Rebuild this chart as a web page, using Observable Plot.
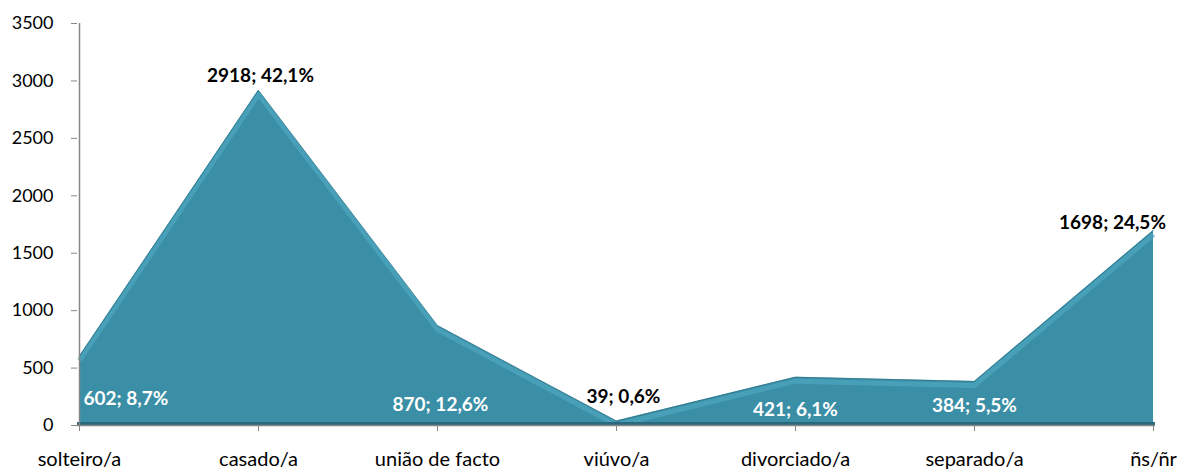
<!DOCTYPE html>
<html>
<head>
<meta charset="utf-8">
<script src="https://cdn.jsdelivr.net/npm/d3@7"></script>
<script src="https://cdn.jsdelivr.net/npm/@observablehq/plot@0.6"></script>
<style>
  html, body { margin: 0; padding: 0; background: #fff; }
  #chart svg { display: block; }
</style>
</head>
<body>
<div id="chart"></div>
<script>
const categories = ["solteiro/a", "casado/a", "união de facto", "viúvo/a", "divorciado/a", "separado/a", "ñs/ñr"];
const counts = [602, 2918, 870, 39, 421, 384, 1698];
const percents = ["8,7%", "42,1%", "12,6%", "0,6%", "6,1%", "5,5%", "24,5%"];
const yTicks = [0, 500, 1000, 1500, 2000, 2500, 3000, 3500];

const data = categories.map((c, i) => ({ cat: c, value: counts[i], label: `${counts[i]}; ${percents[i]}` }));

// label placement (style only): inside-bottom white labels, or outside dark labels
const placement = {
  "solteiro/a":     { inside: true,  dx: 4,   dy: 0, anchor: "start" },
  "casado/a":       { inside: false, dx: 2,   dy: -14, anchor: "middle" },
  "união de facto": { inside: true,  dx: 3,   dy: 6, anchor: "middle" },
  "viúvo/a":        { inside: false, dx: 7,   dy: -24, anchor: "middle" },
  "divorciado/a":   { inside: true,  dx: 0,   dy: 11, anchor: "middle" },
  "separado/a":     { inside: true,  dx: 0,   dy: 7, anchor: "middle" },
  "ñs/ñr":          { inside: false, dx: -41, dy: -8, anchor: "middle" }
};
const insideLevel = 230; // data-level baseline for inside labels

const labelMarks = data.map(d => {
  const p = placement[d.cat];
  return Plot.text([d], {
    x: "cat",
    y: p.inside ? () => insideLevel : "value",
    text: "label",
    dx: p.dx, dy: p.dy,
    textAnchor: p.anchor,
    fill: p.inside ? "#ffffff" : "#000000",
    fontWeight: "bold",
    fontSize: 19
  });
});

const chart = Plot.plot({
  width: 1181,
  height: 472,
  marginLeft: 77,
  marginRight: 26,
  marginTop: 23,
  marginBottom: 47,
  style: { fontFamily: "Lato, sans-serif", fontSize: "20px", color: "#000", background: "#fff" },
  x: { type: "point", domain: categories, padding: 0, label: null },
  y: { domain: [0, 3500], label: null },
  marks: [
    Plot.areaY(data, { x: "cat", y: "value", fill: "#3a8ea6" }),
    Plot.lineY(data, { x: "cat", y: "value", stroke: "#4fa8c0", strokeWidth: 5, dy: 4, strokeLinejoin: "round", strokeLinecap: "butt", strokeOpacity: 0.7, clip: "frame" }),
    Plot.lineY(data, { x: "cat", y: "value", stroke: "#2e6f82", strokeWidth: 1, strokeOpacity: 0.6 }),
    Plot.ruleY([0], { stroke: "#2b6a7c", strokeWidth: 3, dy: -2 }),
    Plot.axisY({ ticks: yTicks, tickSize: 6, tickPadding: 18, stroke: "#868686", fill: "#000", fontSize: 18, tickFormat: d => String(d) }),
    Plot.axisX({ tickSize: 6, tickPadding: 20, stroke: "#868686", fill: "#000" }),
    Plot.ruleX([categories[0]], { y1: 0, y2: 3500, stroke: "#868686", strokeWidth: 1.5 }),
    Plot.ruleY([0], { stroke: "#868686", strokeWidth: 1.5 }),
    ...labelMarks
  ]
});
document.getElementById("chart").appendChild(chart);
</script>
</body>
</html>
